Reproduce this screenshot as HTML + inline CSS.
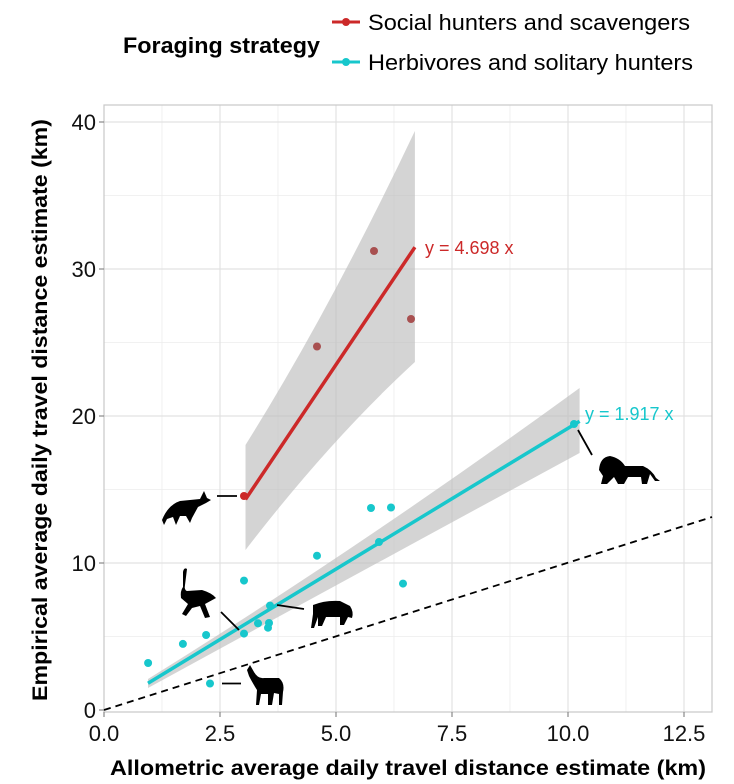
<!DOCTYPE html>
<html><head><meta charset="utf-8"><style>
body{margin:0;background:#fff;}
svg{display:block;font-family:"Liberation Sans",Arial,sans-serif;}
</style></head><body>
<svg width="734" height="784" viewBox="0 0 734 784">
<text x="123" y="53" font-size="22" font-weight="bold" fill="#000" textLength="197" lengthAdjust="spacingAndGlyphs">Foraging strategy</text>
<line x1="332" y1="22" x2="360" y2="22" stroke="#cc2929" stroke-width="3"/><circle cx="346" cy="22" r="4" fill="#cc2929"/>
<line x1="332" y1="62" x2="360" y2="62" stroke="#17c7cc" stroke-width="3"/><circle cx="346" cy="62" r="4" fill="#17c7cc"/>
<text x="368" y="30" font-size="22" fill="#000" textLength="322" lengthAdjust="spacingAndGlyphs">Social hunters and scavengers</text>
<text x="368" y="70" font-size="22" fill="#000" textLength="325" lengthAdjust="spacingAndGlyphs">Herbivores and solitary hunters</text>
<g stroke="#ececec" stroke-width="0.8">
<line x1="162" y1="105" x2="162" y2="712"/><line x1="278" y1="105" x2="278" y2="712"/><line x1="394" y1="105" x2="394" y2="712"/><line x1="510" y1="105" x2="510" y2="712"/><line x1="626" y1="105" x2="626" y2="712"/>
<line x1="104" y1="636.5" x2="712" y2="636.5"/><line x1="104" y1="489.5" x2="712" y2="489.5"/><line x1="104" y1="342.5" x2="712" y2="342.5"/><line x1="104" y1="195.5" x2="712" y2="195.5"/>
</g>
<g stroke="#e2e2e2" stroke-width="1.2">
<line x1="220" y1="105" x2="220" y2="712"/><line x1="336" y1="105" x2="336" y2="712"/><line x1="452" y1="105" x2="452" y2="712"/><line x1="568" y1="105" x2="568" y2="712"/><line x1="684" y1="105" x2="684" y2="712"/>
<line x1="104" y1="563" x2="712" y2="563"/><line x1="104" y1="416" x2="712" y2="416"/><line x1="104" y1="269" x2="712" y2="269"/><line x1="104" y1="122" x2="712" y2="122"/>
</g>
<rect x="104" y="105" width="608" height="607" fill="none" stroke="#c8c8c8" stroke-width="1.2"/>
<path d="M245.5,445 Q330,310 414.9,131 L414.9,362 Q330,440 245.5,550 Z" fill="#bdbdbd" opacity="0.65"/>
<path d="M148,679 Q364,545 579.6,388 L579.6,453 Q364,570 148,688 Z" fill="#bdbdbd" opacity="0.65"/>
<line x1="104" y1="710" x2="712" y2="517" stroke="#000" stroke-width="1.8" stroke-dasharray="7,5"/>
<line x1="245.5" y1="499.4" x2="414.9" y2="247.2" stroke="#cc2929" stroke-width="3.5"/>
<line x1="148" y1="683.2" x2="579.6" y2="421.2" stroke="#17c7cc" stroke-width="3.5"/>
<g fill="#17c7cc">
<circle cx="148.1" cy="663" r="4"/><circle cx="182.9" cy="643.9" r="4"/><circle cx="206.1" cy="635" r="4"/><circle cx="210" cy="683.5" r="4"/>
<circle cx="244" cy="580.6" r="4"/><circle cx="244" cy="633.6" r="4"/><circle cx="258" cy="623.3" r="4"/><circle cx="268" cy="627.7" r="4"/>
<circle cx="269" cy="623" r="4"/><circle cx="270" cy="605.6" r="4"/><circle cx="317" cy="555.7" r="4"/><circle cx="371" cy="508" r="4"/>
<circle cx="379" cy="542" r="4"/><circle cx="391" cy="507.5" r="4"/><circle cx="403" cy="583.6" r="4"/><circle cx="574" cy="424" r="4"/>
</g>
<g fill="#cc2929"><circle cx="244" cy="496" r="4"/></g>
<g fill="#a85050"><circle cx="317" cy="346.5" r="4"/><circle cx="374" cy="251" r="4"/><circle cx="411" cy="319" r="4"/></g>
<text x="425" y="254" font-size="18" fill="#cc2929">y = 4.698 x</text>
<text x="585" y="420" font-size="18" fill="#17c7cc">y = 1.917 x</text>
<g stroke="#000" stroke-width="1.8">
<line x1="217" y1="496" x2="237" y2="496"/><line x1="222" y1="683.5" x2="241" y2="683.5"/>
<line x1="221" y1="612" x2="239" y2="630"/><line x1="277" y1="605" x2="304" y2="609"/><line x1="578" y1="430" x2="592" y2="455"/>
</g>
<g fill="#000">
<path d="M162,520 Q168,505 180,501 L200,499 L204,491 L207,498 L211,500 L206,503 L198,507 L192,518 L190,523 L186,516 L180,516 L176,525 L173,517 L167,519 L164,525 Z"/>
<path d="M599,470 Q600,457 610,456 Q620,458 625,466 L643,466 Q652,470 656,478 L660,481 L655,481 L650,474 L647,484 L642,484 L641,477 L628,477 L624,484 L618,484 L614,477 L607,484 L601,484 L603,476 Z"/>
<path d="M183,572 Q184,567 187,569 L185,585 Q184,590 187,591 L202,590 Q212,593 216,598 L205,604 L210,617 L205,618 L200,606 L192,608 L186,616 L182,614 L188,604 L181,598 Q180,591 183,587 Z"/>
<path d="M313,605 Q325,600 340,601 L350,606 Q354,612 352,618 L348,617 L344,625 L340,625 L340,617 L326,617 L322,626 L318,626 L318,617 L314,628 L311,628 L313,614 Z"/>
<path d="M247,670 L250,665 L254,672 Q258,679 264,678 L279,678 Q285,683 283,692 L282,705 L279,705 L279,694 L274,693 L272,705 L268,705 L268,694 L261,694 L259,705 L256,705 L257,690 Q252,682 249,676 Z"/>
</g>
<g stroke="#888" stroke-width="1.2">
<line x1="99" y1="710" x2="104" y2="710"/><line x1="99" y1="563" x2="104" y2="563"/><line x1="99" y1="416" x2="104" y2="416"/><line x1="99" y1="269" x2="104" y2="269"/><line x1="99" y1="122" x2="104" y2="122"/>
<line x1="104" y1="712" x2="104" y2="717"/><line x1="220" y1="712" x2="220" y2="717"/><line x1="336" y1="712" x2="336" y2="717"/><line x1="452" y1="712" x2="452" y2="717"/><line x1="568" y1="712" x2="568" y2="717"/><line x1="684" y1="712" x2="684" y2="717"/>
</g>
<g font-size="22" fill="#111" text-anchor="end">
<text x="96" y="718">0</text><text x="96" y="571">10</text><text x="96" y="424">20</text><text x="96" y="277">30</text><text x="96" y="130">40</text>
</g>
<g font-size="22" fill="#111" text-anchor="middle">
<text x="104" y="741">0.0</text><text x="220" y="741">2.5</text><text x="336" y="741">5.0</text><text x="452" y="741">7.5</text><text x="568" y="741">10.0</text><text x="684" y="741">12.5</text>
</g>
<text x="408" y="775" font-size="21" font-weight="bold" text-anchor="middle" fill="#000" textLength="596" lengthAdjust="spacingAndGlyphs">Allometric average daily travel distance estimate (km)</text>
<text transform="translate(47,410) rotate(-90)" font-size="21" font-weight="bold" text-anchor="middle" fill="#000" textLength="582" lengthAdjust="spacingAndGlyphs">Empirical average daily travel distance estimate (km)</text>
</svg>
</body></html>
